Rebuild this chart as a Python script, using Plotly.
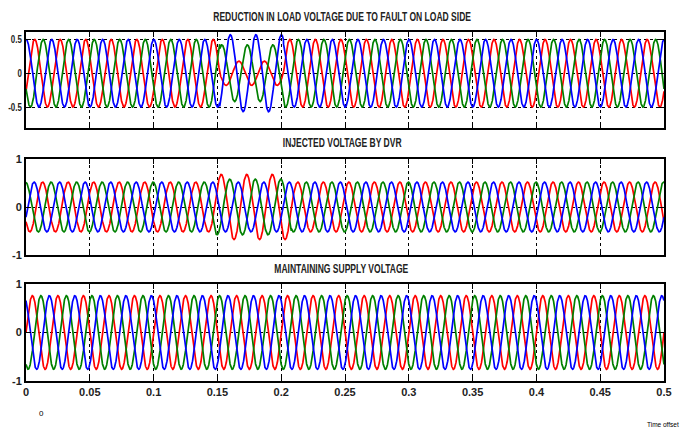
import numpy as np
import plotly.graph_objects as go
from plotly.subplots import make_subplots

# ---------------- data ----------------
freq_hz = 50.0                      # 25 cycles over 0.5 s
t_end = 0.5
phase_names = ["A", "B", "C"]
phase_colors = ["#FF0000", "#008000", "#0000FF"]
phase_shift_deg = [0, -120, 120]    # red, green, blue

# panel 1 : load voltage with a sag on the load side
p1_delay_s = 0.0018
p1_amp_normal = [0.50, 0.50, 0.50]
p1_amp_fault = [0.18, 0.42, 0.57]
p1_fault = [0.1518, 0.2018]

# panel 2 : voltage injected by DVR
p2_delay_s = 0.008
p2_amp_normal = [0.52, 0.52, 0.52]
p2_amp_fault = [0.68, 0.58, 0.52]
p2_fault = [0.148, 0.208]

# panel 3 : supply voltage maintained
p3_delay_s = 0.0
p3_amp_normal = [0.76, 0.76, 0.76]
p3_amp_fault = [0.76, 0.76, 0.76]
p3_fault = [0.15, 0.20]

titles = ["REDUCTION IN LOAD VOLTAGE DUE TO FAULT ON LOAD SIDE",
          "INJECTED VOLTAGE BY DVR",
          "MAINTAINING SUPPLY VOLTAGE"]
x_ticks = [0, 0.05, 0.1, 0.15, 0.2, 0.25, 0.3, 0.35, 0.4, 0.45, 0.5]
x_tick_text = ["0", "0.05", "0.1", "0.15", "0.2", "0.25", "0.3", "0.35", "0.4", "0.45", "0.5"]
y_ticks = [[-0.5, 0, 0.5], [-1, 0, 1], [-1, 0, 1]]
y_tick_text = [["-0.5", "0", "0.5"], ["-1", "0", "1"], ["-1", "0", "1"]]
y_ranges = [[-0.81, 0.61], [-1, 1], [-1, 1]]

panels = [
    (p1_delay_s, p1_amp_normal, p1_amp_fault, p1_fault),
    (p2_delay_s, p2_amp_normal, p2_amp_fault, p2_fault),
    (p3_delay_s, p3_amp_normal, p3_amp_fault, p3_fault),
]

# ---------------- figure ----------------
W, H = 685, 430
ml, mr, mt, mb = 26, 21, 32, 49
plot_h = H - mt - mb
def ypaper(px):
    return (H - mb - px) / plot_h

fig = make_subplots(rows=3, cols=1, shared_xaxes=False)
doms = [(128, 32), (255, 159), (381, 284)]

t = np.linspace(0, t_end, 6001)
w = 2 * np.pi * freq_hz
for i, (delay, a_n, a_f, fault) in enumerate(panels):
    in_fault = (t >= fault[0]) & (t < fault[1])
    theta = w * (t - delay)
    for k in range(3):
        amp = np.where(in_fault, a_f[k], a_n[k])
        y = amp * np.sin(theta + np.deg2rad(phase_shift_deg[k]))
        fig.add_trace(go.Scatter(x=t, y=y, mode="lines", name=phase_names[k],
                                 line=dict(color=phase_colors[k], width=1.7),
                                 showlegend=False, hoverinfo="skip"),
                      row=i + 1, col=1)

FONT = "Liberation Sans Narrow, Arial Narrow, Liberation Sans, Arial"
tickfont = dict(family=FONT, size=11, color="#222222", weight="bold")
for i in range(3):
    ax = "" if i == 0 else str(i + 1)
    bot, top = doms[i]
    fig.layout["xaxis" + ax].update(
        domain=[0, 1], range=[0, t_end], tickvals=x_ticks, ticktext=x_tick_text,
        showticklabels=(i == 2), showgrid=True, gridcolor="black", gridwidth=1,
        griddash="3px,3px", showline=True, linecolor="black", linewidth=2,
        mirror="ticks", ticks="inside", ticklen=5, tickcolor="black",
        tickfont=tickfont, zeroline=False, automargin=False)
    fig.layout["yaxis" + ax].update(
        domain=[ypaper(bot), ypaper(top)], range=y_ranges[i],
        tickvals=y_ticks[i], ticktext=y_tick_text[i],
        showgrid=True, gridcolor="black", gridwidth=1, griddash="3px,3px",
        showline=True, linecolor="black", linewidth=2, mirror="ticks",
        ticks="inside", ticklen=5, tickcolor="black", tickfont=tickfont,
        zeroline=False, automargin=False)

title_font = dict(family=FONT, size=12.5, color="#222222", weight="bold")
title_y_px = [16.7, 143, 269]
for txt, ypx in zip(titles, title_y_px):
    fig.add_annotation(text=txt, xref="paper", yref="paper", x=0.495, y=ypaper(ypx),
                       xanchor="center", yanchor="middle", showarrow=False, font=title_font)

small_font = dict(family=FONT, size=8, color="black")
fig.add_annotation(text="0", xref="paper", yref="paper", x=(41.7 - ml) / (W - ml - mr),
                   y=ypaper(413), xanchor="center", yanchor="middle", showarrow=False,
                   font=small_font)
fig.add_annotation(text="Time offset", xref="paper", yref="paper",
                   x=(663 - ml) / (W - ml - mr), y=ypaper(424), xanchor="center",
                   yanchor="middle", showarrow=False, font=dict(small_font, size=6.5))

fig.update_layout(width=W, height=H, margin=dict(l=ml, r=mr, t=mt, b=mb),
                  paper_bgcolor="white", plot_bgcolor="white")

# condense the bold text horizontally (narrow font look of the original)
post_js = """
(function(){
  var gd = document.getElementById('{plot_id}');
  function squeezeEl(t, f, anchor){
    var bb = t.getBBox();
    var cx = anchor === 'end' ? bb.x + bb.width : bb.x + bb.width / 2;
    var old = t.getAttribute('data-oldtf');
    if (old === null) { old = t.getAttribute('transform') || ''; t.setAttribute('data-oldtf', old); }
    t.setAttribute('transform', old + ' translate(' + cx + ',0) scale(' + f + ',1) translate(' + (-cx) + ',0)');
  }
  function squeeze(){
    var texts = Array.prototype.slice.call(gd.querySelectorAll('text.annotation-text'));
    var f = null;
    texts.forEach(function(t){
      if (t.textContent.indexOf('REDUCTION') === 0) { f = 258 / t.getBBox().width; }
    });
    if (f) {
      texts.forEach(function(t){
        if (t.textContent.length >= 15) squeezeEl(t, f, 'middle');
      });
    }
    gd.querySelectorAll('g.xtick text').forEach(function(t){ squeezeEl(t, 0.72, 'middle'); });
    gd.querySelectorAll('g.ytick text').forEach(function(t){ squeezeEl(t, 0.72, 'end'); });
  }
  squeeze();
})();
"""
fig.write_html("out.html", post_script=post_js)
